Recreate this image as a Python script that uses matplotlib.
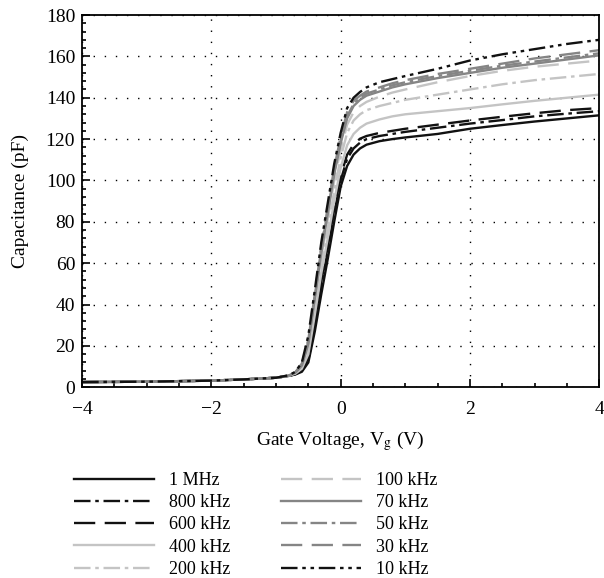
import matplotlib
matplotlib.use("Agg")
import matplotlib.pyplot as plt
from matplotlib.ticker import MultipleLocator

plt.rcParams['font.family'] = ['Liberation Serif', 'DejaVu Serif']
plt.rcParams['mathtext.fontset'] = 'stix'

# gate voltage grid (V)
vg = [-4, -3, -2, -1.5, -1, -0.8, -0.7, -0.6, -0.5, -0.4, -0.3, -0.2, -0.1, 0,
      0.1, 0.2, 0.3, 0.4, 0.6, 0.8, 1, 1.5, 2, 2.5, 3, 3.5, 4]

labels = ["1 MHz", "800 kHz", "600 kHz", "400 kHz", "200 kHz",
          "100 kHz", "70 kHz", "50 kHz", "30 kHz", "10 kHz"]

c_1mhz = [2.5, 2.7, 3.2, 3.8, 4.6, 5.5, 6.2, 7.5, 12, 27, 45, 62, 80, 97, 107, 112.5,
          115.5, 117.3, 119, 120, 120.8, 122.5, 125, 126.8, 128.5, 130, 131.5]
c_800k = [2.5, 2.7, 3.2, 3.8, 4.6, 5.5, 6.3, 8, 13, 30, 49, 66, 84, 100, 110.5, 115.5,
          118.3, 120, 121.5, 122.5, 123.5, 125.5, 127.5, 129.2, 131, 132.3, 133.5]
c_600k = [2.5, 2.7, 3.2, 3.8, 4.6, 5.5, 6.4, 8.5, 14, 32, 51, 68, 86, 102, 112.5, 117.5,
          120.2, 121.5, 123, 124, 125, 127, 129, 130.8, 132.5, 134, 135]
c_400k = [2.5, 2.7, 3.2, 3.8, 4.6, 5.6, 6.6, 9, 16, 35, 55, 72, 90, 106, 117, 122.5,
          125.5, 127.5, 129.5, 131, 132, 133.5, 135, 136.8, 138.5, 140, 141.5]
c_200k = [2.5, 2.7, 3.2, 3.8, 4.6, 5.6, 6.8, 9.5, 18, 38, 59, 77, 95, 111, 123, 129,
          132, 134, 136, 137.5, 139, 141.5, 144, 146.5, 148.5, 150, 151.5]
c_100k = [2.5, 2.7, 3.2, 3.8, 4.6, 5.7, 7, 10, 20, 41, 63, 81, 100, 115, 127, 133,
          136, 138, 140.5, 142.5, 144, 147.5, 150.5, 153, 155, 156.5, 158]
c_70k = [2.5, 2.7, 3.2, 3.8, 4.6, 5.7, 7.1, 10.5, 21, 43, 65, 84, 103, 118, 130, 136,
         139, 141, 143, 145, 146.5, 149.5, 152, 154.5, 156.5, 158.5, 160.5]
c_50k = [2.5, 2.7, 3.2, 3.8, 4.6, 5.7, 7.2, 11, 22, 44, 67, 85, 104, 119, 131, 137,
         140, 142, 144, 146, 147.5, 150.5, 153, 155.5, 157.5, 159.5, 161.5]
c_30k = [2.5, 2.7, 3.2, 3.8, 4.6, 5.8, 7.3, 11.5, 23, 45, 68, 87, 106, 121, 133, 138.5,
         141, 143, 145, 147, 148.5, 151.5, 154, 156.5, 159, 161, 163]
c_10k = [2.5, 2.7, 3.2, 3.8, 4.6, 5.8, 7.5, 12, 25, 47, 70, 89, 108, 123, 135, 140,
         142.8, 145, 147.5, 149, 150.5, 154, 158, 161, 163.5, 166, 168]

series = [c_1mhz, c_800k, c_600k, c_400k, c_200k, c_100k, c_70k, c_50k, c_30k, c_10k]

black, light, mid = "#111111", "#c4c4c4", "#858585"
styles = [
    (black, "-"),
    (black, (0, (7, 2, 1.5, 2))),
    (black, (0, (9, 4))),
    (light, "-"),
    (light, (0, (7, 2, 1.5, 2))),
    (light, (0, (9, 4))),
    (mid, "-"),
    (mid, (0, (7, 2, 1.5, 2))),
    (mid, (0, (9, 4))),
    (black, (0, (7, 2, 1.5, 2, 1.5, 2))),
]

fig = plt.figure(figsize=(6.04, 5.78), dpi=100)
ax = fig.add_axes([0.136, 0.330, 0.856, 0.644])

for c, lab, (col, ls) in zip(series, labels, styles):
    ax.plot(vg, c, color=col, linestyle=ls, lw=1.7, label=lab)

ax.set_xlim(-4, 4)
ax.set_ylim(0, 180)
ax.xaxis.set_major_locator(MultipleLocator(2))
ax.xaxis.set_minor_locator(MultipleLocator(0.5))
ax.yaxis.set_major_locator(MultipleLocator(20))
ax.yaxis.set_minor_locator(MultipleLocator(4))
ax.tick_params(which="both", direction="in", labelsize=14, width=1.2)
ax.tick_params(which="major", length=6)
ax.tick_params(which="minor", length=3)
ax.tick_params(axis="y", pad=5)
ax.tick_params(axis="x", pad=10)
for s in ax.spines.values():
    s.set_linewidth(1.3)
ax.grid(True, which="major", color="black", linestyle=(0, (1, 7)), lw=1.0)

ax.set_xlabel(r"Gate Voltage, V$_\mathrm{g}$ (V)", fontsize=14, labelpad=8)
ax.set_ylabel("Capacitance (pF)", fontsize=14, labelpad=12)

fig.legend(loc="upper left", bbox_to_anchor=(0.108, 0.199), ncol=2, frameon=False,
           fontsize=13, handlelength=4.44, handletextpad=0.83, labelspacing=0.29,
           columnspacing=2.77, borderpad=0)

fig.savefig("out.png", dpi=100)
